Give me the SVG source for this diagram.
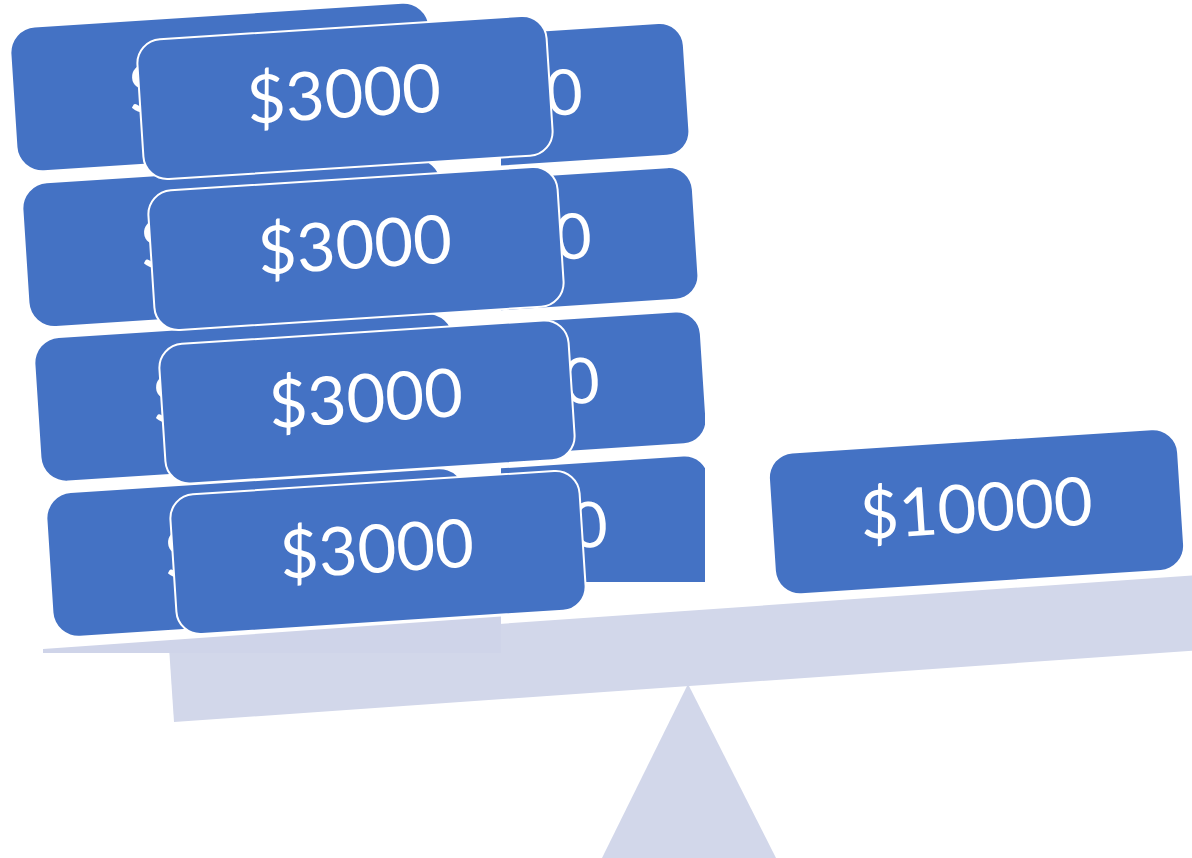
<svg xmlns="http://www.w3.org/2000/svg" width="1192" height="858" viewBox="0 0 1192 858">
  <style>
    .blk { fill: #4472C4; }
    .front { fill: #4472C4; stroke: #FFFFFF; stroke-width: 2; }
    .lbl { fill: #FFFFFF; font-family: Lato, "Open Sans", "Liberation Sans", sans-serif; text-anchor: middle; }
    .beam { fill: #D2D7EA; }
  </style>
  <defs>
    <clipPath id="clipRight"><rect x="501" y="0" width="204" height="582"/></clipPath>
    <clipPath id="clipLeft"><rect x="0" y="0" width="501" height="653"/></clipPath>
  </defs>
  <rect width="1192" height="858" fill="#FFFFFF"/>

  <!-- back-left copy of the stack -->
  <g id="back-left" clip-path="url(#clipLeft)">
    <g transform="translate(223,87) rotate(-3.7)"><rect class="blk" x="-209" y="-71.5" width="418" height="143" rx="25"/><text class="lbl" x="3" y="20.5" font-size="68">$3000</text></g>
    <g transform="translate(235,242.7) rotate(-3.7)"><rect class="blk" x="-209" y="-71.5" width="418" height="143" rx="25"/><text class="lbl" x="3" y="20.5" font-size="68">$3000</text></g>
    <g transform="translate(247,397.4) rotate(-3.7)"><rect class="blk" x="-209" y="-71.5" width="418" height="143" rx="25"/><text class="lbl" x="3" y="20.5" font-size="68">$3000</text></g>
    <g transform="translate(259,552.5) rotate(-3.7)"><rect class="blk" x="-209" y="-71.5" width="418" height="143" rx="25"/><text class="lbl" x="3" y="20.5" font-size="68">$3000</text></g>
  </g>

  <!-- back-right copy of the stack -->
  <g id="back-right" clip-path="url(#clipRight)">
    <g transform="translate(491,100.5) rotate(-3.7)"><rect class="blk" x="-195" y="-65.5" width="390" height="131" rx="23"/><text class="lbl" x="0" y="19" font-size="63.5">$3000</text></g>
    <g transform="translate(500,244.6) rotate(-3.7)"><rect class="blk" x="-195" y="-65.5" width="390" height="131" rx="23"/><text class="lbl" x="0" y="19" font-size="63.5">$3000</text></g>
    <g transform="translate(508,389) rotate(-3.7)"><rect class="blk" x="-195" y="-65.5" width="390" height="131" rx="23"/><text class="lbl" x="0" y="19" font-size="63.5">$3000</text></g>
    <g transform="translate(516,533) rotate(-3.7)"><rect class="blk" x="-195" y="-65.5" width="390" height="131" rx="23"/><text class="lbl" x="0" y="19" font-size="63.5">$3000</text></g>
  </g>

  <!-- fulcrum and beam -->
  <g id="fulcrum"><polygon class="beam" points="688,684 776,858 602,858"/></g>
  <g id="beam">
    <polygon class="beam" points="169,647 1260,570.7 1265,645.7 174,722"/>
    <polygon fill="#CFD4E9" points="43,649 501,616.5 501,653 43,653"/>
  </g>

  <!-- front stack -->
  <g id="stack-1" transform="translate(345,97.5) rotate(-3.7)"><rect class="front" x="-205" y="-70" width="410" height="140" rx="24"/><text class="lbl" x="-1" y="20" font-size="67">$3000</text></g>
  <g id="stack-2" transform="translate(356,248.5) rotate(-3.7)"><rect class="front" x="-205" y="-70" width="410" height="140" rx="24"/><text class="lbl" x="-1" y="20" font-size="67">$3000</text></g>
  <g id="stack-3" transform="translate(367,402) rotate(-3.7)"><rect class="front" x="-205" y="-70" width="410" height="140" rx="24"/><text class="lbl" x="-1" y="20" font-size="67">$3000</text></g>
  <g id="stack-4" transform="translate(378,552.5) rotate(-3.7)"><rect class="front" x="-205" y="-70" width="410" height="140" rx="24"/><text class="lbl" x="-1" y="20" font-size="67">$3000</text></g>

  <!-- right weight -->
  <g id="weight-10000" transform="translate(976.5,511.7) rotate(-3.7)"><rect class="blk" x="-204" y="-70" width="408" height="140" rx="24"/><text class="lbl" x="0" y="20" font-size="67">$10000</text></g>
</svg>
